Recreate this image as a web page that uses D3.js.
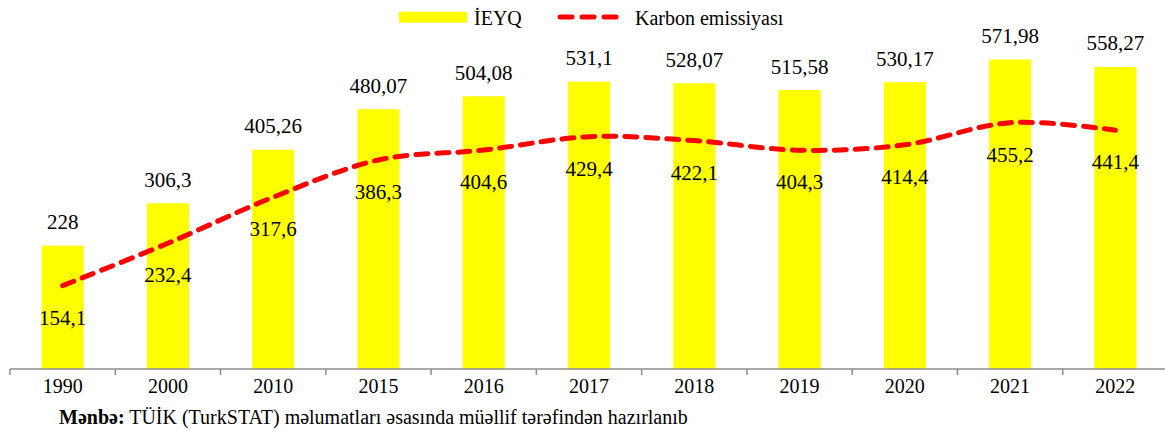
<!DOCTYPE html>
<html>
<head>
<meta charset="utf-8">
<script src="https://cdn.jsdelivr.net/npm/d3@7"></script>
<style>
  body { margin: 0; background: #fff; }
  svg text { font-family: "Liberation Serif", "DejaVu Serif", "Times New Roman", serif; fill: #000; }
</style>
</head>
<body>
<div id="chart"></div>
<script>
let years = ["1990", "2000", "2010", "2015", "2016", "2017", "2018", "2019", "2020", "2021", "2022"];
let ieyq = [228, 306.3, 405.26, 480.07, 504.08, 531.1, 528.07, 515.58, 530.17, 571.98, 558.27];
let carbon = [154.1, 232.4, 317.6, 386.3, 404.6, 429.4, 422.1, 404.3, 414.4, 455.2, 441.4];

var w = 1165,
	h = 430,
	fontSize = 20,
	labelSize = 21;

let fmt = (v) => String(v).replace(".", ",");

let svg = d3
	.select("#chart")
	.append("svg")
	.attr("width", w)
	.attr("height", h)
	.attr("font-family", "Liberation Serif, DejaVu Serif, serif");

let x = d3
	.scaleBand()
	.domain(years)
	.range([10, 1168])
	.paddingInner(0.6)
	.paddingOuter(0.3);
let y = d3.scaleLinear().domain([0, 650]).range([369, 17.3]);

// bars
svg
	.selectAll("rect.bar")
	.data(years)
	.enter()
	.append("rect")
	.attr("class", "bar")
	.attr("x", (d) => x(d))
	.attr("width", x.bandwidth())
	.attr("y", (d, i) => y(ieyq[i]))
	.attr("height", (d, i) => y(0) - y(ieyq[i]))
	.attr("fill", "#ffff00");

// axis line + boundary ticks
svg
	.append("line")
	.attr("x1", 10)
	.attr("x2", 1168)
	.attr("y1", y(0))
	.attr("y2", y(0))
	.attr("stroke", "#8c8c8c")
	.attr("stroke-width", 1.5);

let step = x.step();
svg
	.selectAll("line.tick")
	.data(d3.range(years.length + 1))
	.enter()
	.append("line")
	.attr("class", "tick")
	.attr("x1", (d) => 10 + d * step)
	.attr("x2", (d) => 10 + d * step)
	.attr("y1", y(0))
	.attr("y2", y(0) + 6)
	.attr("stroke", "#8c8c8c")
	.attr("stroke-width", 1.5);

svg
	.selectAll("text.year")
	.data(years)
	.enter()
	.append("text")
	.attr("class", "year")
	.attr("x", (d) => x(d) + x.bandwidth() / 2)
	.attr("y", 393)
	.attr("text-anchor", "middle")
	.style("font-size", fontSize + "px")
	.text((d) => d);

// bar labels
svg
	.selectAll("text.barLabel")
	.data(years)
	.enter()
	.append("text")
	.attr("class", "barLabel")
	.attr("x", (d) => x(d) + x.bandwidth() / 2)
	.attr("y", (d, i) => y(ieyq[i]) - 16.5)
	.attr("text-anchor", "middle")
	.style("font-size", labelSize + "px")
	.text((d, i) => fmt(ieyq[i]));

// carbon line
let line = d3
	.line()
	.x((d, i) => x(years[i]) + x.bandwidth() / 2)
	.y((d) => y(d))
	.curve(d3.curveCardinal.tension(0));

svg
	.append("path")
	.datum(carbon)
	.attr("d", line)
	.attr("fill", "none")
	.attr("stroke", "#ff0000")
	.attr("stroke-width", 5)
	.attr("stroke-linecap", "round")
	.attr("stroke-dasharray", "12,9");

svg
	.selectAll("text.lineLabel")
	.data(carbon)
	.enter()
	.append("text")
	.attr("class", "lineLabel")
	.attr("x", (d, i) => x(years[i]) + x.bandwidth() / 2)
	.attr("y", (d) => y(d) + 39)
	.attr("text-anchor", "middle")
	.style("font-size", labelSize + "px")
	.text((d) => fmt(d));

// legend
let legend = svg.append("g").attr("id", "legend");

legend
	.append("rect")
	.attr("x", 399)
	.attr("y", 11.7)
	.attr("width", 68)
	.attr("height", 11)
	.attr("fill", "#ffff00");

legend
	.append("text")
	.attr("x", 474)
	.attr("y", 25)
	.style("font-size", fontSize + "px")
	.text("İEYQ");

legend
	.append("line")
	.attr("x1", 560)
	.attr("x2", 617)
	.attr("y1", 17)
	.attr("y2", 17)
	.attr("stroke", "#ff0000")
	.attr("stroke-width", 5)
	.attr("stroke-linecap", "round")
	.attr("stroke-dasharray", "12,10");

legend
	.append("text")
	.attr("x", 635)
	.attr("y", 25)
	.style("font-size", fontSize + "px")
	.text("Karbon emissiyası");

// source note
let source = svg
	.append("text")
	.attr("x", 59)
	.attr("y", 424)
	.style("font-size", "20px");

source.append("tspan").style("font-weight", "bold").text("Mənbə:");
source.append("tspan").text(" TÜİK (TurkSTAT) məlumatları əsasında müəllif tərəfindən hazırlanıb");
</script>
</body>
</html>
